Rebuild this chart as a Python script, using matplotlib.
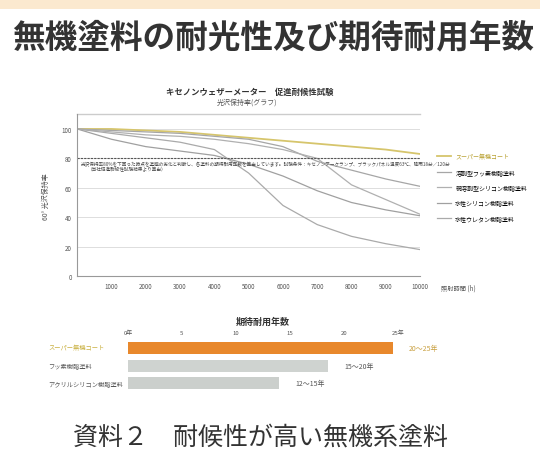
import matplotlib
matplotlib.use("Agg")
import matplotlib.pyplot as plt
from matplotlib.patches import Rectangle

plt.rcParams['font.family'] = ['Noto Sans CJK JP', 'DejaVu Sans']

# exposure test (gloss retention %)
hours = [0, 1000, 2000, 3000, 4000, 5000, 6000, 7000, 8000, 9000, 10000]
hour_labels = ["1000", "2000", "3000", "4000", "5000", "6000", "7000", "8000", "9000", "10000"]
series_names = ["スーパー無機コート", "溶剤型フッ素樹脂塗料", "弱溶剤型シリコン樹脂塗料",
                "水性シリコン樹脂塗料", "水性ウレタン樹脂塗料"]
inorganic = [100, 100, 99, 98, 96, 94, 92, 90, 88, 86, 83]
fluoro = [100, 99, 98, 97, 95, 93, 88, 78, 72, 66, 61]
silicone_solvent = [100, 98, 96, 95, 93, 90, 86, 80, 62, 52, 42]
silicone_water = [100, 93, 88, 85, 82, 76, 68, 58, 50, 45, 41]
urethane_water = [100, 97, 94, 91, 86, 70, 48, 35, 27, 22, 18]

# expected service life (years)
life_names = ["スーパー無機コート", "フッ素樹脂塗料", "アクリルシリコン樹脂塗料"]
life_years = [24.5, 18.5, 14.0]
life_labels = ["20～25年", "15～20年", "12～15年"]
year_ticks = [0, 5, 10, 15, 20, 25]
year_tick_labels = ["0年", "5", "10", "15", "20", "25年"]

fig = plt.figure(figsize=(5.4, 4.52), dpi=100)
fig.patch.set_facecolor("white")

# peach band on top
fig.patches.append(Rectangle((0, 0.977), 1, 0.023, transform=fig.transFigure,
                             facecolor="#fbe9cf", edgecolor="none"))

fig.text(0.505, 0.915, "無機塗料の耐光性及び期待耐用年数", ha="center", va="center",
         fontsize=23.5, fontweight="bold", color="#333333")

# ---- line chart ----
ax = fig.add_axes([0.143, 0.387, 0.635, 0.358])
grays = ["#a6a6a6", "#b0b0b0", "#a0a0a0", "#aaaaaa"]
lines = []
l, = ax.plot(hours, inorganic, color="#d6c56c", lw=1.3)
lines.append(l)
for vals, c in zip([fluoro, silicone_solvent, silicone_water, urethane_water], grays):
    l, = ax.plot(hours, vals, color=c, lw=0.9)
    lines.append(l)

ax.axhline(80, color="#555555", lw=0.8, ls=(0, (2, 1)))
ax.text(120, 78.5, "光沢保持率80%を下回った時点を塗膜の劣化と判断し、各塗料の期待耐用年数を算出しています。"
        "試験条件：キセノンアークランプ、ブラックパネル温度63℃、降雨18分／120分",
        fontsize=3.3, color="#444444", va="top")
ax.text(300, 74.5, "（当社促進耐候性試験結果より算出）", fontsize=3.3, color="#444444", va="top")

ax.set_xlim(0, 10000)
ax.set_ylim(0, 110)
ax.set_yticks([0, 20, 40, 60, 80, 100])
ax.set_yticklabels(["0", "20", "40", "60", "80", "100"], fontsize=4.5, color="#555555")
ax.set_xticks(hours[1:])
ax.set_xticklabels(hour_labels, fontsize=4.5, color="#555555")
ax.tick_params(length=0, pad=4)
ax.grid(axis="y", color="#dddddd", lw=0.7)
for s in ["top", "right"]:
    ax.spines[s].set_visible(False)
ax.spines["left"].set_color("#999999")
ax.spines["bottom"].set_color("#999999")
ax.axhline(110, color="#cccccc", lw=1.0, clip_on=False)
ax.set_ylabel("60° 光沢保持率", fontsize=5, color="#555555", labelpad=8)
ax.text(1.06, -0.07, "照射時間 (h)", transform=ax.transAxes, fontsize=4.5,
        color="#555555", ha="left", va="center")

fig.text(0.463, 0.796, "キセノンウェザーメーター　促進耐候性試験", ha="center", va="center",
         fontsize=6, fontweight="bold", color="#333333")
fig.text(0.458, 0.772, "光沢保持率(グラフ)", ha="center", va="center", fontsize=5, color="#555555")

leg = fig.legend(lines, series_names, loc="upper left", bbox_to_anchor=(0.80, 0.67),
                 fontsize=4.3, frameon=False, handlelength=2.2, labelspacing=1.6)
leg.get_texts()[0].set_color("#b8a030")

# ---- bar chart ----
bx = fig.add_axes([0.237, 0.128, 0.5, 0.122])
ypos = [0, 1, 2]
colors = ["#e8882c", "#cfd3d0", "#cbcfcc"]
bx.barh(ypos, life_years, color=colors, height=0.68)
bx.set_ylim(2.55, -0.55)
bx.set_xlim(0, 25)
bx.set_xticks(year_ticks)
bx.set_xticklabels(year_tick_labels, fontsize=4.3, color="#555555")
bx.xaxis.tick_top()
bx.tick_params(length=0, pad=2)
bx.set_yticks([])
for s in bx.spines.values():
    s.set_visible(False)
name_colors = ["#c9b040", "#555555", "#555555"]
for y, v, name, lab, nc in zip(ypos, life_years, life_names, life_labels, name_colors):
    bx.text(-7.4, y, name, ha="left", va="center", fontsize=4.5, color=nc)
    bx.text(v + 1.5, y, lab, ha="left", va="center", fontsize=5,
            color="#c9a040" if y == 0 else "#555555")
bx.set_title("期待耐用年数", fontsize=6.5, fontweight="bold", color="#333333", pad=10)

fig.text(0.483, 0.031, "資料２　耐候性が高い無機系塗料", ha="center", va="center",
         fontsize=18, color="#333333")

fig.savefig("out.png", dpi=100)
